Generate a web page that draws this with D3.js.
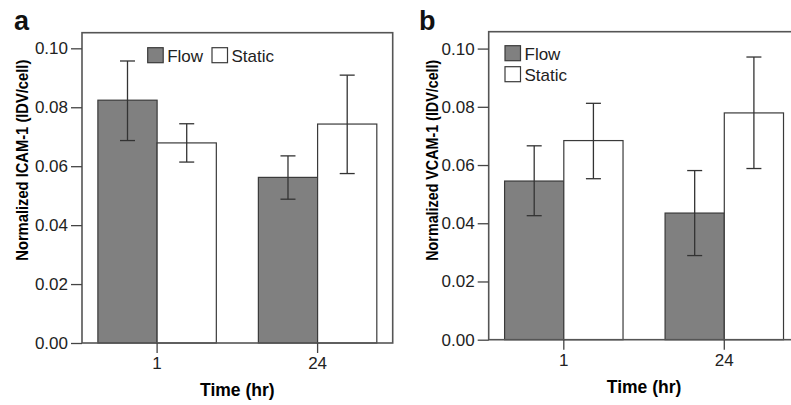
<!DOCTYPE html>
<html>
<head>
<meta charset="utf-8">
<script src="https://cdn.jsdelivr.net/npm/d3@7"></script>
<style>
body{margin:0;background:#fff;}
svg{display:block;font-family:"Liberation Sans",Arial,Helvetica,sans-serif;}
.axis text{font-size:17px;fill:#222;}
.axis line{stroke:#444;stroke-width:1.3;}
</style>
</head>
<body>
<svg id="chart" width="791" height="405"></svg>
<script>
// time points and groups
var times = ["1", "24"];
var groups = ["Flow", "Static"];
var yTicks = [0, 0.02, 0.04, 0.06, 0.08, 0.10];

// panel a : ICAM-1
var icamFlow = [0.0824, 0.0562];
var icamFlowErr = [[0.0687, 0.0957], [0.0488, 0.0635]];
var icamStatic = [0.0679, 0.0743];
var icamStaticErr = [[0.0614, 0.0744], [0.0575, 0.0909]];

// panel b : VCAM-1
var vcamFlow = [0.0545, 0.0435];
var vcamFlowErr = [[0.0426, 0.0666], [0.0289, 0.0581]];
var vcamStatic = [0.0684, 0.0779];
var vcamStaticErr = [[0.0553, 0.0812], [0.0588, 0.0971]];

var _fill = {Flow: "#808080", Static: "#ffffff"};

var svg = d3.select("#chart");

var Panel = function(opt){
	var g = svg.append("g").attr("transform", "translate(" + opt.left + "," + opt.top + ")");
	var width = opt.width, height = opt.height;

	// band for time, inner band for the two groups
	var x = d3.scaleBand().domain(times).range([0, width]).paddingInner(0.262).paddingOuter(0.099);
	var x1 = d3.scaleBand().domain(groups).range([0, x.bandwidth()]);
	var y = d3.scaleLinear().domain([0, opt.yMax]).range([height, 0]);

	var rows = [];
	times.forEach(function(t, i){
		rows.push({time: t, group: "Flow", value: opt.flow[i], err: opt.flowErr[i]});
		rows.push({time: t, group: "Static", value: opt.stat[i], err: opt.statErr[i]});
	});

	g.selectAll("rect.bar")
		.data(rows).enter()
		.append("rect").attr("class", "bar")
		.attr("x", function(d){return x(d.time) + x1(d.group);})
		.attr("y", function(d){return y(d.value);})
		.attr("width", x1.bandwidth())
		.attr("height", function(d){return height - y(d.value);})
		.attr("fill", function(d){return _fill[d.group];})
		.attr("stroke", "#3a3a3a").attr("stroke-width", 1.2);

	// error bars
	var cap = 7.5;
	var eb = g.selectAll("g.err").data(rows).enter().append("g").attr("class", "err")
		.attr("transform", function(d){return "translate(" + (x(d.time) + x1(d.group) + x1.bandwidth() / 2) + ",0)";});
	eb.append("line").attr("x1", 0).attr("x2", 0)
		.attr("y1", function(d){return y(d.err[0]);})
		.attr("y2", function(d){return y(d.err[1]);});
	eb.append("line").attr("x1", -cap).attr("x2", cap)
		.attr("y1", function(d){return y(d.err[1]);}).attr("y2", function(d){return y(d.err[1]);});
	eb.append("line").attr("x1", -cap).attr("x2", cap)
		.attr("y1", function(d){return y(d.err[0]);}).attr("y2", function(d){return y(d.err[0]);});
	eb.selectAll("line").attr("stroke", "#333").attr("stroke-width", 1.3);

	// frame
	g.append("rect").attr("x", 0).attr("y", 0).attr("width", width).attr("height", height)
		.attr("fill", "none").attr("stroke", "#555").attr("stroke-width", 1.6);

	var yAxis = d3.axisLeft(y).tickValues(yTicks).tickFormat(d3.format(".2f")).tickSize(11).tickPadding(3);
	var ya = g.append("g").attr("class", "axis").call(yAxis);
	ya.select(".domain").remove();

	var xAxis = d3.axisBottom(x).tickSize(10).tickPadding(4);
	var xa = g.append("g").attr("class", "axis").attr("transform", "translate(0," + height + ")").call(xAxis);
	xa.select(".domain").remove();
	xa.selectAll(".tick").attr("transform", function(d){return "translate(" + (x(d) + x.bandwidth() / 2) + ",0)";});

	g.append("text").attr("x", width / 2).attr("y", height + 53)
		.attr("text-anchor", "middle").attr("font-weight", "bold").attr("font-size", 17.5)
		.text("Time (hr)");

	g.append("text").attr("transform", "translate(" + opt.yLabelX + "," + opt.yLabelY + ") rotate(-90)")
		.attr("text-anchor", "middle").attr("font-weight", "bold").attr("font-size", 17)
		.attr("textLength", 201).attr("lengthAdjust", "spacingAndGlyphs")
		.text(opt.yLabel);

	svg.append("text").attr("x", opt.tagX).attr("y", 30)
		.attr("font-weight", "bold").attr("font-size", 27).attr("fill", "#111")
		.text(opt.tag);

	// legend
	var leg = g.append("g").attr("transform", "translate(" + opt.legX + "," + opt.legY + ")");
	var item = leg.selectAll("g").data(groups).enter().append("g")
		.attr("transform", function(d, i){
			return opt.legHorizontal ? "translate(" + (i * 64.3) + ",0)" : "translate(0," + (i * 21) + ")";
		});
	item.append("rect").attr("width", 15.5).attr("height", 15)
		.attr("fill", function(d){return _fill[d];}).attr("stroke", "#3a3a3a").attr("stroke-width", 1.2);
	item.append("text").attr("x", 19.5).attr("y", 14.5).attr("font-size", 17).attr("fill", "#222")
		.text(function(d){return d;});
};

new Panel({left: 82, top: 32.7, width: 310.7, height: 310.3, yMax: 0.1053,
	flow: icamFlow, flowErr: icamFlowErr, stat: icamStatic, statErr: icamStaticErr,
	yLabel: "Normalized ICAM-1 (IDV/cell)", yLabelX: -54.5, yLabelY: 127.5,
	tag: "a", tagX: 14, legX: 65.7, legY: 15, legHorizontal: true});

new Panel({left: 488.7, top: 31.7, width: 310.7, height: 308, yMax: 0.1058,
	flow: vcamFlow, flowErr: vcamFlowErr, stat: vcamStatic, statErr: vcamStaticErr,
	yLabel: "Normalized VCAM-1 (IDV/cell)", yLabelX: -51, yLabelY: 128.5,
	tag: "b", tagX: 419, legX: 16.3, legY: 14, legHorizontal: false});
</script>
</body>
</html>
